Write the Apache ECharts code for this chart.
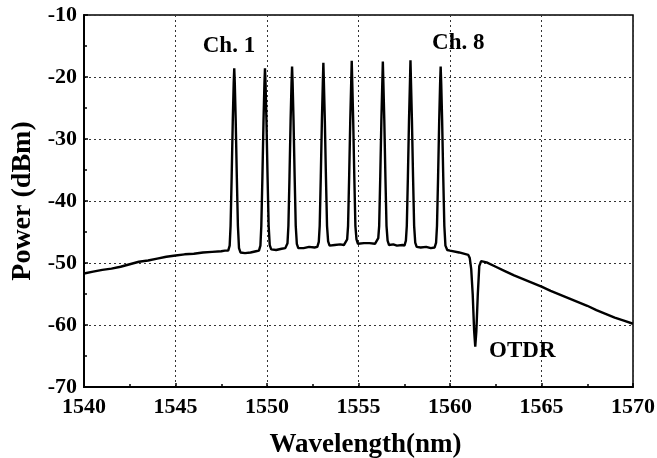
<!DOCTYPE html>
<html>
<head>
<meta charset="utf-8">
<script src="https://cdn.jsdelivr.net/npm/echarts@6/dist/echarts.min.js"></script>
<style>html,body{margin:0;padding:0;background:#fff}#c{width:657px;height:458px}</style>
</head>
<body>
<div id="c"></div>
<script>
// Tick values
var xTicks = [1540, 1545, 1550, 1555, 1560, 1565, 1570];
var yTicks = [-70, -60, -50, -40, -30, -20, -10];

// ASE baseline left of the channels
var leftWl  = [1540.0, 1540.5, 1541.0, 1541.5, 1542.0, 1542.5, 1543.0, 1543.5, 1544.0, 1544.5, 1545.0, 1545.5, 1546.0, 1546.5, 1547.0, 1547.5, 1547.7];
var leftDbm = [-51.7, -51.4, -51.1, -50.9, -50.6, -50.2, -49.8, -49.6, -49.3, -49.0, -48.8, -48.6, -48.5, -48.3, -48.2, -48.1, -48.0];

// 8 WDM channels (Ch.1 ... Ch.8) with inter-channel floor
var chWl = [
  1547.88, 1547.96, 1548.01, 1548.07, 1548.13, 1548.18, 1548.21, 1548.24, 1548.29, 1548.35, 1548.41, 1548.47, 1548.55,
  1548.80, 1549.10, 1549.40,
  1549.56, 1549.64, 1549.69, 1549.75, 1549.81, 1549.86, 1549.89, 1549.92, 1549.97, 1550.03, 1550.09, 1550.15, 1550.23,
  1550.50, 1550.80, 1551.00,
  1551.04, 1551.12, 1551.17, 1551.23, 1551.29, 1551.34, 1551.37, 1551.40, 1551.45, 1551.51, 1551.57, 1551.63, 1551.71,
  1552.00, 1552.30, 1552.60,
  1552.75, 1552.83, 1552.88, 1552.94, 1553.00, 1553.05, 1553.08, 1553.11, 1553.16, 1553.22, 1553.28, 1553.34, 1553.42,
  1553.70, 1554.00, 1554.20,
  1554.30, 1554.38, 1554.43, 1554.49, 1554.55, 1554.60, 1554.63, 1554.66, 1554.71, 1554.77, 1554.83, 1554.89, 1554.97,
  1555.30, 1555.60, 1555.90,
  1556.00, 1556.08, 1556.13, 1556.19, 1556.25, 1556.30, 1556.33, 1556.36, 1556.41, 1556.47, 1556.53, 1556.59, 1556.67,
  1556.90, 1557.10, 1557.40,
  1557.51, 1557.59, 1557.64, 1557.70, 1557.76, 1557.81, 1557.84, 1557.87, 1557.92, 1557.98, 1558.04, 1558.10, 1558.18,
  1558.40, 1558.70, 1558.95,
  1559.16, 1559.24, 1559.29, 1559.35, 1559.41, 1559.46, 1559.49, 1559.52, 1559.57, 1559.63, 1559.69, 1559.75, 1559.85
];
var chDbm = [
  -48.0, -47.2, -44, -36, -27, -21, -18.6, -21, -27, -36, -44, -47.6, -48.3,
  -48.4, -48.3, -48.1,
  -48.0, -47.2, -44, -36, -27, -21, -18.6, -21, -27, -36, -44, -47.1, -47.8,
  -47.9, -47.7, -47.6,
  -47.6, -46.8, -44, -36, -27, -21, -18.3, -21, -27, -36, -44, -46.9, -47.6,
  -47.6, -47.4, -47.5,
  -47.4, -46.6, -44, -36, -27, -21, -17.7, -21, -27, -36, -44, -46.5, -47.2,
  -47.1, -47.0, -47.1,
  -47.0, -46.2, -44, -36, -27, -21, -17.4, -21, -27, -36, -44, -46.2, -46.9,
  -46.8, -46.8, -46.9,
  -46.8, -46.0, -44, -36, -27, -21, -17.5, -21, -27, -36, -44, -46.4, -47.1,
  -47.0, -47.2, -47.1,
  -47.2, -46.4, -44, -36, -27, -21, -17.3, -21, -27, -36, -44, -46.7, -47.4,
  -47.5, -47.4, -47.6,
  -47.5, -46.7, -44, -36, -27, -21, -18.3, -21, -27, -36, -44, -47.2, -47.9
];

// OTDR notch and long-wavelength tail
var otdrWl  = [1560.0, 1560.5, 1561.0, 1561.08, 1561.16, 1561.24, 1561.32, 1561.38, 1561.44, 1561.52, 1561.60, 1561.70, 1562.0, 1562.5, 1563.0, 1563.5, 1564.0, 1564.5, 1565.0, 1565.5, 1566.0, 1566.5, 1567.0, 1567.5, 1568.0, 1568.5, 1569.0, 1569.5, 1570.0];
var otdrDbm = [-48.0, -48.3, -48.7, -49.2, -51.0, -55.0, -61.0, -63.5, -61.0, -55.0, -50.5, -49.7, -49.9, -50.6, -51.3, -52.0, -52.6, -53.2, -53.8, -54.5, -55.1, -55.7, -56.3, -56.9, -57.6, -58.2, -58.8, -59.3, -59.8];

// Annotation labels
var annotations = [
  { name: 'Ch. 1', wl: 1547.92, dbm: -15.0 },
  { name: 'Ch. 8', wl: 1560.45, dbm: -14.6 },
  { name: 'OTDR',  wl: 1563.95, dbm: -64.2 }
];

var allWl = leftWl.concat(chWl, otdrWl);
var allDbm = leftDbm.concat(chDbm, otdrDbm);
var lineData = allWl.map(function (w, i) { return [w, allDbm[i]]; });

var FONT = "'Liberation Serif', 'Times New Roman', serif";
var chart = echarts.init(document.getElementById('c'), null, { renderer: 'canvas' });
chart.setOption({
  animation: false,
  backgroundColor: '#fff',
  grid: { left: 84, right: 24, top: 15, bottom: 71, show: true, borderColor: '#000', borderWidth: 1.5,
    containLabel: false, outerBoundsMode: 'none' },
  xAxis: {
    type: 'value', min: xTicks[0], max: xTicks[xTicks.length - 1], interval: 5,
    name: 'Wavelength(nm)', nameLocation: 'middle', nameGap: 45,
    nameTextStyle: { fontFamily: FONT, fontWeight: 'bold', fontSize: 27, color: '#000', padding: [0, 0, 0, 14] },
    axisLine: { lineStyle: { color: '#000', width: 2 } },
    axisTick: { inside: true, length: 4, lineStyle: { color: '#000', width: 1.5 } },
    minorTick: { show: true, splitNumber: 2, length: 3, lineStyle: { color: '#000', width: 1.5 } },
    axisLabel: { fontFamily: FONT, fontWeight: 'bold', fontSize: 22, color: '#000', margin: 9,
      formatter: function (v) { return String(v); } },
    splitLine: { show: true, lineStyle: { color: '#333', width: 1, type: [2, 3] } }
  },
  yAxis: {
    type: 'value', min: yTicks[0], max: yTicks[yTicks.length - 1], interval: 10,
    name: 'Power (dBm)', nameLocation: 'middle', nameGap: 46, nameRotate: 90,
    nameTextStyle: { fontFamily: FONT, fontWeight: 'bold', fontSize: 28, color: '#000' },
    axisLine: { show: true, lineStyle: { color: '#000', width: 2 } },
    axisTick: { show: true, inside: true, length: 4, lineStyle: { color: '#000', width: 1.5 } },
    minorTick: { show: true, splitNumber: 2, length: 3, lineStyle: { color: '#000', width: 1.5 } },
    axisLabel: { fontFamily: FONT, fontWeight: 'bold', fontSize: 22, color: '#000', margin: 7,
      formatter: function (v) { return String(v); } },
    splitLine: { show: true, lineStyle: { color: '#333', width: 1, type: [2, 3] } }
  },
  series: [{
    type: 'line',
    data: lineData,
    showSymbol: false,
    symbol: 'none',
    lineStyle: { color: '#000', width: 2.4 },
    markPoint: {
      symbol: 'circle', symbolSize: 1,
      itemStyle: { color: 'rgba(0,0,0,0)' },
      label: { show: true, position: 'inside', formatter: '{b}', fontFamily: FONT, fontWeight: 'bold', fontSize: 23, color: '#000' },
      data: annotations.map(function (a) { return { name: a.name, coord: [a.wl, a.dbm] }; })
    }
  }]
});
</script>
</body>
</html>
